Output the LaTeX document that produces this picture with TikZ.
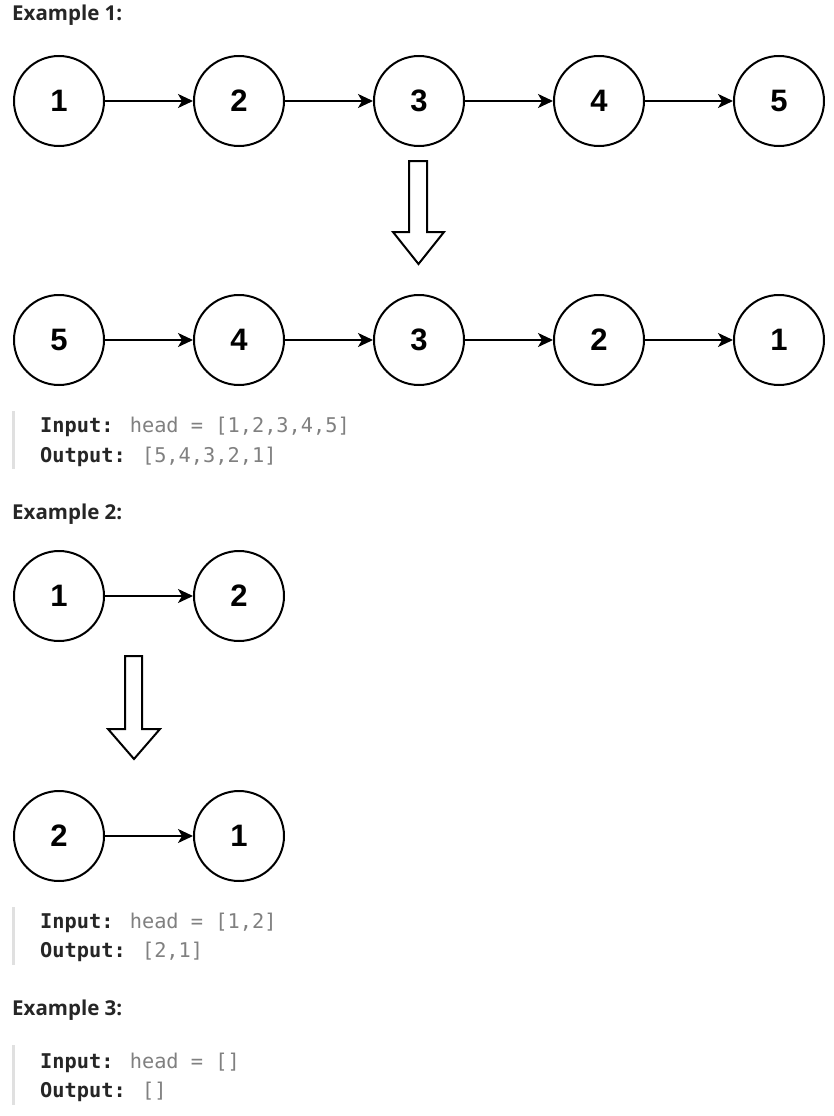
\documentclass[tikz,border=0pt]{standalone}
\usepackage{fontspec}
\setmainfont{Open Sans}
\newfontfamily\codefont{DejaVu Sans Mono}
\newfontfamily\numfont{Liberation Sans}
\usetikzlibrary{arrows.meta}
\definecolor{txt}{RGB}{38,38,38}
\definecolor{valgray}{RGB}{128,128,128}
\definecolor{bargray}{RGB}{224,224,224}
\begin{document}
\begin{tikzpicture}[x=1pt,y=-1pt,
  lnode/.style={circle,draw=black,line width=2pt,minimum size=90pt,inner sep=0pt,font=\numfont\fontsize{31}{31}\selectfont\bfseries},
  link/.style={line width=1.8pt,-{Stealth[length=15pt,width=14pt,inset=4pt]}},
  bigarrow/.style={draw=black,line width=2pt,fill=white,line join=miter},
  title/.style={anchor=base west,inner sep=0pt,text=txt,font=\fontsize{20.5}{20.5}\selectfont\bfseries},
  code/.style={anchor=base west,inner sep=0pt,text=valgray,font=\codefont\fontsize{20.3}{20.3}\selectfont},
  quotebar/.style={fill=bargray,draw=none}
]
\useasboundingbox[fill=white] (0,0) rectangle (834,1116);

% ---------- Example 1 ----------
\node[title] (t1) at (12,21) {Example 1:};
\foreach \v [count=\i] in {1,2,3,4,5}
  \node[lnode] (a\i) at ({59+180*(\i-1)},101) {\v};
\foreach \v [count=\i] in {5,4,3,2,1}
  \node[lnode] (b\i) at ({59+180*(\i-1)},340) {\v};
\foreach \i [evaluate=\i as \j using int(\i+1)] in {1,2,3,4}{
  \draw[link] (a\i) -- (a\j);
  \draw[link] (b\i) -- (b\j);
}
\draw[bigarrow] (409,161) -- (427,161) -- (427,232) -- (444,232) -- (418.5,264) -- (393,232) -- (409,232) -- cycle;
\fill[quotebar] (12,411) rectangle (15,469);
\node[code] (in1) at (40,432) {\textcolor{txt}{\bfseries Input:} head = [1,2,3,4,5]};
\node[code] (out1) at (40,462) {\textcolor{txt}{\bfseries Output:} [5,4,3,2,1]};

% ---------- Example 2 ----------
\node[title] (t2) at (12,519) {Example 2:};
\node[lnode] (p1) at (59,596) {1};
\node[lnode] (p2) at (239,596) {2};
\draw[link] (p1) -- (p2);
\draw[bigarrow] (125,656) -- (142,656) -- (142,729) -- (160,729) -- (134,759) -- (108,729) -- (125,729) -- cycle;
\node[lnode] (q1) at (59,836) {2};
\node[lnode] (q2) at (239,836) {1};
\draw[link] (q1) -- (q2);
\fill[quotebar] (12,907) rectangle (15,965);
\node[code] (in2) at (40,928) {\textcolor{txt}{\bfseries Input:} head = [1,2]};
\node[code] (out2) at (40,957) {\textcolor{txt}{\bfseries Output:} [2,1]};

% ---------- Example 3 ----------
\node[title] (t3) at (12,1015) {Example 3:};
\fill[quotebar] (12,1045) rectangle (15,1105);
\node[code] (in3) at (40,1068) {\textcolor{txt}{\bfseries Input:} head = []};
\node[code] (out3) at (40,1097) {\textcolor{txt}{\bfseries Output:} []};
\end{tikzpicture}
\end{document}
